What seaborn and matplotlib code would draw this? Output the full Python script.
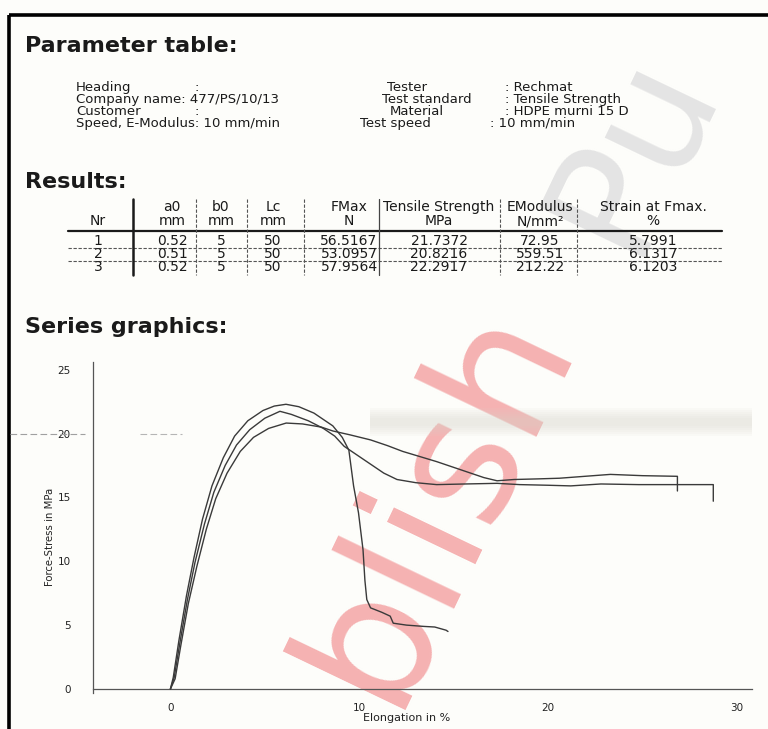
import numpy as np
import pandas as pd
import matplotlib
matplotlib.use("Agg")
import matplotlib.pyplot as plt
import seaborn as sns

# ---------------- data ----------------
specimens = ["1", "2", "3"]

elong_1 = [0.0, 0.2, 0.5, 0.9, 1.3, 1.8, 2.3, 2.9, 3.5, 4.2, 5.0, 5.8, 6.4, 7.3, 8.1,
           8.7, 9.2, 9.9, 10.6, 11.3, 12.0, 13.0, 14.1, 15.6, 17.3, 18.5, 20.0, 21.2,
           22.8, 24.8, 26.8, 28.75, 28.75]
stress_1 = [0.0, 0.9, 3.6, 7.0, 9.9, 12.9, 15.4, 17.5, 19.1, 20.3, 21.2, 21.74, 21.5,
            21.0, 20.4, 19.8, 19.0, 18.3, 17.6, 16.9, 16.4, 16.15, 16.0, 16.05, 16.1,
            16.0, 15.95, 15.9, 16.05, 16.0, 16.0, 16.0, 14.7]

elong_2 = [0.0, 0.25, 0.55, 0.95, 1.4, 1.9, 2.4, 3.0, 3.7, 4.4, 5.2, 6.13, 7.0, 8.0,
           8.6, 9.5, 10.6, 11.5, 12.3, 13.2, 14.1, 15.0, 15.9, 16.6, 17.3, 18.2, 19.5,
           20.6, 21.5, 23.3, 25.0, 26.85, 26.85]
stress_2 = [0.0, 0.8, 3.4, 6.7, 9.6, 12.5, 14.9, 16.9, 18.6, 19.7, 20.4, 20.82, 20.75,
            20.5, 20.2, 19.9, 19.5, 19.05, 18.6, 18.2, 17.8, 17.35, 16.9, 16.55, 16.3,
            16.4, 16.45, 16.5, 16.6, 16.8, 16.7, 16.65, 15.5]

elong_3 = [0.0, 0.15, 0.45, 0.85, 1.25, 1.7, 2.2, 2.8, 3.4, 4.1, 4.9, 5.5, 6.12, 6.8,
           7.6, 8.6, 9.1, 9.45, 9.7, 9.96, 10.2, 10.3, 10.4, 10.6, 11.2, 11.64, 11.8,
           12.5, 13.4, 14.0, 14.6, 14.7]
stress_3 = [0.0, 0.9, 3.8, 7.3, 10.3, 13.3, 15.9, 18.1, 19.8, 21.0, 21.8, 22.15, 22.29,
            22.1, 21.6, 20.6, 19.7, 18.7, 15.9, 13.8, 10.9, 8.5, 7.0, 6.35, 6.0, 5.7,
            5.15, 5.0, 4.9, 4.85, 4.6, 4.5]

# results table
col_head_1 = ["", "a0", "b0", "Lc", "FMax", "Tensile Strength", "EModulus", "Strain at Fmax."]
col_head_2 = ["Nr", "mm", "mm", "mm", "N", "MPa", "N/mm²", "%"]
nr = ["1", "2", "3"]
a0 = ["0.52", "0.51", "0.52"]
b0 = ["5", "5", "5"]
lc = ["50", "50", "50"]
fmax = ["56.5167", "53.0957", "57.9564"]
tensile = ["21.7372", "20.8216", "22.2917"]
emod = ["72.95", "559.51", "212.22"]
strain = ["5.7991", "6.1317", "6.1203"]

# parameter block
param_left = ["Heading", "Company name: 477/PS/10/13", "Customer", "Speed, E-Modulus: 10 mm/min"]
param_left_colon = [True, False, True, False]
param_right_keys = ["Tester", "Test standard", "Material", "Test speed"]
param_right_vals = [": Rechmat", ": Tensile Strength", ": HDPE murni 15 D", ": 10 mm/min"]

x_major = [0, 10, 20, 30]
y_major = [0, 5, 10, 15, 20, 25]

# ---------------- style ----------------
sns.set_theme(style="white")
plt.rcParams["font.family"] = ["DejaVu Sans"]

W, H = 768, 729
fig = plt.figure(figsize=(W / 100, H / 100), dpi=100)
fig.patch.set_facecolor("#fdfdfa")

# background layer (watermark)
back = fig.add_axes([0, 0, 1, 1], zorder=0)
back.set_xlim(0, W)
back.set_ylim(H, 0)
back.axis("off")
back.text(436, 500, "blish", rotation=64.4, fontsize=128,
          color="#f5b2b2", ha="center", va="center", rotation_mode="anchor")
back.text(632, 150, "Pu", rotation=64.4, fontsize=116,
          color="#e4e4e4", ha="center", va="center", rotation_mode="anchor")

# ---------------- chart ----------------
frames = []
for name, xs, ys in zip(specimens, [elong_1, elong_2, elong_3], [stress_1, stress_2, stress_3]):
    frames.append(pd.DataFrame({"specimen": name, "elong": xs, "stress": ys}))
df = pd.concat(frames, ignore_index=True)

left_px, right_px, top_px, bot_px = 93, 752, 362, 692.8
ax = fig.add_axes([left_px / W, 1 - bot_px / H, (right_px - left_px) / W,
                   (bot_px - top_px) / H], zorder=1)
ax.set_facecolor("none")

# faint scanner haze across the upper part of the plot
for k in range(6):
    half = 1.1 - 0.16 * k
    ax.axhspan(20.9 - half, 20.9 + half, xmin=0.42, xmax=1.0, color="#d9d6cc",
               alpha=0.09, lw=0, zorder=0)

sns.lineplot(data=df, x="elong", y="stress", units="specimen", estimator=None,
             sort=False, color="#3a3a3a", linewidth=1.0, ax=ax, zorder=3)

ax.set_xlim(-4.1, 30.8)
ax.set_ylim(-0.3, 25.6)
for side in ["top", "right"]:
    ax.spines[side].set_visible(False)
ax.spines["bottom"].set_position(("data", 0))
for side in ["left", "bottom"]:
    ax.spines[side].set_color("#555555")
    ax.spines[side].set_linewidth(0.9)

ax.set_xticks(x_major)
ax.set_xticks(np.arange(-2, 31, 2), minor=True)
ax.set_yticks(y_major)
ax.set_yticks(np.arange(0, 26, 1), minor=True)
ax.tick_params(axis="both", which="major", direction="inout", length=10, width=1.0,
               color="#444444", labelsize=7.5, labelcolor="#222222")
ax.tick_params(axis="both", which="minor", direction="inout", length=7, width=0.9,
               color="#555555")
ax.tick_params(axis="x", which="major", pad=5)
ax.tick_params(axis="y", which="major", pad=11)
ax.set_xlabel("Elongation in %", fontsize=8, color="#222222", va="center")
ax.set_ylabel("Force-Stress in MPa", fontsize=7.3, color="#222222", va="center")
ax.xaxis.set_label_coords((407 - left_px) / (right_px - left_px), (bot_px - 718) / (bot_px - top_px))
ax.yaxis.set_label_coords((50 - left_px) / (right_px - left_px), (bot_px - 537) / (bot_px - top_px))

# ---------------- page text ----------------
page = fig.add_axes([0, 0, 1, 1], zorder=2)
page.set_xlim(0, W)
page.set_ylim(H, 0)
page.axis("off")

ink = "#1a1a1a"
# frame
page.plot([9, 9], [15, H], color="black", lw=2.6, solid_capstyle="butt")
page.plot([9, W], [15, 15], color="black", lw=2.6, solid_capstyle="butt")

# stray scan marks
page.plot([10, 85], [434, 434], color="#a0a0a0", lw=0.8, ls=(0, (6, 3)))
page.plot([140, 182], [434, 434], color="#b5b5b5", lw=0.8, ls=(0, (6, 3)))

title_kw = dict(fontsize=16, fontweight="bold", color=ink, va="center", ha="left")
page.text(25, 46, "Parameter table:", **title_kw)
page.text(25, 182, "Results:", **title_kw)
page.text(25, 327, "Series graphics:", **title_kw)

body = dict(fontsize=9.5, color=ink, va="center")
rows_y = [87, 99, 111, 123]
for y, lab, colon in zip(rows_y, param_left, param_left_colon):
    page.text(76, y, lab, ha="left", **body)
    if colon:
        page.text(194, y, ":", ha="left", **body)
key_x = [387, 382, 390, 360]
val_x = [505, 505, 505, 490]
for y, k, kx, v, vx in zip(rows_y, param_right_keys, key_x, param_right_vals, val_x):
    page.text(kx, y, k, ha="left", **body)
    page.text(vx, y, v, ha="left", **body)

# results table
col_x = [98, 172, 221, 273, 349, 439, 540, 653]
vlines_x = [133, 196, 247, 304, 379, 500, 577]
h1_y, h2_y = 207, 221
row_y = [241, 254, 267]
tbl = dict(fontsize=10, color=ink, va="center")
for cx, t in zip(col_x, col_head_1):
    page.text(cx, h1_y, t, ha="center", **tbl)
for cx, t in zip(col_x, col_head_2):
    page.text(cx, h2_y, t, ha="center", **tbl)
columns = [nr, a0, b0, lc, fmax, tensile, emod, strain]
for cx, col in zip(col_x, columns):
    for y, t in zip(row_y, col):
        page.text(cx, y, t, ha="center", **tbl)

page.plot([68, 722], [231, 231], color=ink, lw=1.6)
page.plot([68, 722], [247.5, 247.5], color="#555555", lw=0.8, ls=(0, (3, 1.5)))
page.plot([68, 722], [260.5, 260.5], color="#555555", lw=0.8, ls=(0, (3, 1.5)))
for i, vx in enumerate(vlines_x):
    if i == 0:
        page.plot([vx, vx], [199, 275], color=ink, lw=1.8)
    elif i == 4:
        page.plot([vx, vx], [199, 275], color="#444444", lw=0.9)
    else:
        page.plot([vx, vx], [199, 275], color="#555555", lw=0.8, ls=(0, (3, 1.5)))

fig.savefig("out.png", dpi=100, facecolor=fig.get_facecolor())
